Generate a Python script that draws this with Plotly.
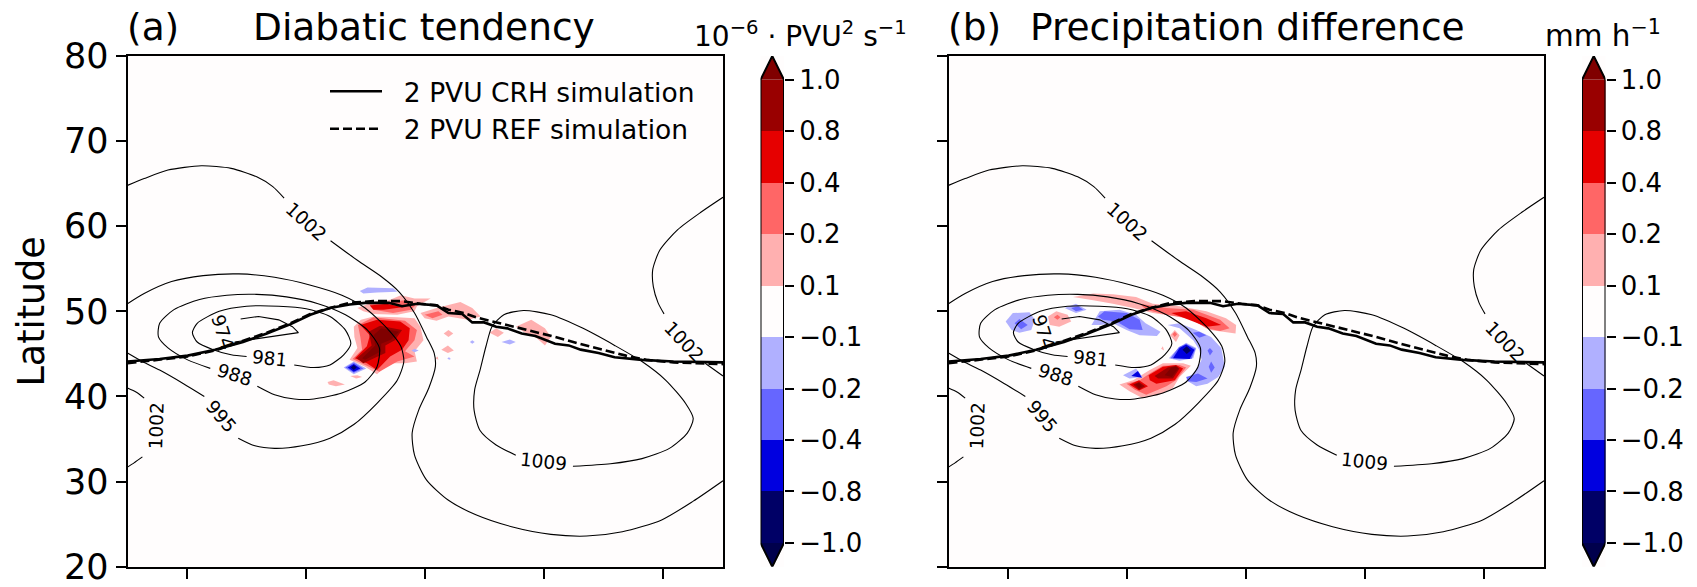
import plotly.graph_objects as go

# Colour-class boundaries and colours
cbar_levels = [-1.0, -0.8, -0.4, -0.2, -0.1, 0.1, 0.2, 0.4, 0.8, 1.0]
cbar_labels = ["\u22121.0", "\u22120.8", "\u22120.4", "\u22120.2", "\u22120.1", "0.1", "0.2", "0.4", "0.8", "1.0"]
cbar_colors = ["#000066", "#0000e0", "#6666ff", "#b0b0ff", "#fffdfd", "#ffb0b0", "#ff6666", "#e60000", "#990000"]
over_color = "#800000"
under_color = "#00004c"
CLASS = {"n1": "#000066", "n2": "#0000e0", "n3": "#6666ff", "n4": "#b0b0ff",
         "p1": "#ffb0b0", "p2": "#ff6666", "p3": "#e60000", "p4": "#990000", "p5": "#800000"}

lat_ticks = [20, 30, 40, 50, 60, 70, 80]
lon_ticks = [-40, -20, 0, 20, 40]

# Sea-level-pressure isobars (lon, lat); pieces stop where the inline labels sit
slp_1002_a = [(-50, 64.8), (-47.2, 65.6), (-43.2, 66.6), (-37.6, 67.1), (-32.6, 66.8), (-28.3, 65.8), (-25.6, 64.65), (-23.7, 63.3)]
slp_1002_b = [(-15.9, 58.3), (-11.4, 56.0), (-7.4, 54.1), (-4.4, 52.3), (-1.8, 49.8), (0.2, 47.0), (1.5, 45.1), (1.7, 43.5),
              (0.6, 41.0), (-1.1, 38.4), (-2.2, 35.7), (-1.8, 33.1), (0.2, 30.2), (3.9, 27.8), (8.5, 26.1), (14.5, 24.7),
              (21.1, 23.8), (27.1, 23.6), (33.1, 24.1), (39.7, 25.5), (45.0, 27.7), (50, 30.1)]
slp_1002_c = [(-50, 41.0), (-48.5, 40.5), (-47.2, 39.8)]
slp_1002_d = [(-47.5, 32.9), (-48.9, 32.2), (-50, 31.7)]
slp_1002_e = [(50, 63.4), (46.4, 61.7), (42.4, 59.6), (39.4, 57.2), (38.2, 54.9), (38.3, 52.9), (39.1, 51.0), (40.1, 49.7)]
slp_1002_f = [(47, 43.9), (50, 42.4)]
slp_995_a = [(-31.4, 35.1), (-28.6, 34.2), (-25.3, 33.9), (-20.7, 34.2), (-16.0, 35.1), (-12.0, 36.7), (-8.1, 39.2), (-4.7, 41.9),
             (-3.6, 44.1), (-4.1, 45.9), (-6.4, 48.0), (-10.1, 50.4), (-14.0, 51.9), (-19.4, 53.1), (-25.3, 54.0), (-31.3, 54.4),
             (-37.3, 54.2), (-42.6, 53.5), (-47.2, 52.1), (-50, 50.9)]
slp_995_b = [(-37.1, 40.0), (-40.6, 41.5), (-44.6, 43.1), (-47.5, 44.1), (-50, 45.1)]
slp_988 = [(-36.1, 43.3), (-39.9, 44.3), (-43.2, 45.7), (-44.8, 47.0), (-44.6, 48.6), (-42.2, 50.2), (-37.9, 51.4), (-33.3, 51.9),
           (-28.3, 52.0), (-23.3, 51.7), (-18.0, 50.9), (-13.4, 49.6), (-9.7, 47.8), (-7.7, 45.7), (-8.1, 43.5), (-10.1, 41.7),
           (-14.0, 40.4), (-18.7, 39.7), (-22.0, 39.7), (-25.3, 40.2), (-28.2, 41.2)]
slp_981 = [(-22, 43.7), (-18.7, 43.4), (-16.0, 43.7), (-13.7, 44.9), (-12.5, 46.2), (-13.4, 47.8), (-16.0, 49.4), (-20.0, 50.3),
           (-24.6, 50.6), (-30.0, 50.6), (-34.6, 50.0), (-38.3, 48.6), (-39.1, 47.5), (-38.3, 46.4), (-35.6, 45.5), (-32.6, 44.9), (-30.0, 44.7)]
slp_974 = [(-31.0, 49.1), (-28.0, 49.4), (-24.6, 49.0), (-22.3, 48.2), (-21.3, 47.5), (-28.3, 46.8), (-32.0, 46.4)]
slp_1009 = [(15.2, 33.1), (11.9, 34.3), (9.2, 36.0), (8.2, 38.4), (8.3, 40.8), (9.2, 43.1), (10.2, 45.9), (11.2, 48.2), (13.2, 49.6),
            (16.5, 50.1), (21.1, 49.6), (26.5, 48.0), (31.8, 46.0), (36.4, 44.1), (40.4, 41.9), (43.7, 39.2), (45.0, 37.4), (44.0, 35.7),
            (41.0, 33.9), (36.4, 32.7), (31.1, 32.1), (24.8, 31.8)]
smooth_isobars = [slp_1002_a, slp_1002_b, slp_1002_c, slp_1002_d, slp_1002_e, slp_1002_f, slp_995_a, slp_995_b, slp_988, slp_981, slp_1009]
sharp_isobars = [slp_974]

# Inline isobar labels: text, lon, lat, angle
isobar_labels = [("1002", -20.0, 60.6, 42), ("1002", -45.2, 36.5, -88), ("995", -34.3, 37.6, 50), ("988", -32.1, 42.6, 18),
                 ("981", -26.1, 44.5, 6), ("974", -34.1, 47.6, 72), ("1002", 43.4, 46.4, 46), ("1009", 19.9, 32.4, 6)]

# 2 PVU contours
pvu_crh = [(-50, 44.1), (-44.6, 44.4), (-39.9, 44.8), (-35.3, 45.5), (-30.6, 46.4), (-26.6, 47.4), (-22.6, 48.5), (-19.3, 49.6), (-16.0, 50.4),
           (-12.7, 50.8), (-10.1, 51.0), (-6.1, 51.0), (-3.9, 50.6), (-1.4, 50.9), (1.9, 50.7), (3.9, 49.8), (6.2, 49.7), (7.9, 48.7), (9.9, 48.7),
           (11.9, 48.2), (13.8, 48.0), (16.2, 47.4), (18.5, 47.1), (21.8, 46.2), (24.1, 46.0), (26.1, 45.5), (29.1, 45.1), (31.8, 44.6), (36.4, 44.3),
           (41.7, 44.1), (50, 44.0)]
pvu_ref = [(-50, 43.9), (-44.6, 44.3), (-39.9, 44.7), (-35.3, 45.4), (-30.6, 46.5), (-26.6, 47.5), (-22.6, 48.6), (-19.3, 49.7), (-16, 50.4),
           (-12.7, 51.0), (-8.7, 51.2), (-4.1, 51.2), (-0.8, 50.9), (1.9, 50.7), (3.9, 50.2), (6.5, 49.8), (8.5, 49.3), (11.9, 48.7), (15.2, 48.2),
           (18.5, 47.6), (21.8, 47.0), (25.8, 46.2), (29.8, 45.5), (33.7, 44.8), (37.1, 44.3), (41.7, 44.0), (50, 43.8)]

# Panel (a): diabatic tendency filled regions, per colour class
a_p1 = [
    [(-10.8, 49.0), (-8.7, 49.4), (-4.7, 49.3), (-1.8, 49.2), (-0.8, 48.2), (-0.3, 46.6), (-1.8, 45.3), (-1.4, 44.1), (-3.4, 43.9), (-6.1, 43.9),
     (-8.1, 42.6), (-10.1, 43.5), (-12.7, 44.3), (-11.4, 45.7), (-11.9, 47.0), (-12.0, 48.2)],
    [(-11.4, 50.4), (-8.7, 51.1), (-6.1, 51.3), (-4.1, 51.9), (-1.8, 51.5), (0.9, 51.5), (-1.4, 50.6), (-1.8, 50.0), (-4.7, 49.6), (-8.7, 49.7), (-10.4, 50.0)],
    [(-0.8, 49.8), (1.9, 50.4), (5.9, 51.1), (7.9, 50.4), (9.3, 49.4), (7.2, 49.0), (3.9, 49.4), (1.9, 48.9), (-0.1, 49.2)],
    [(3.1, 47.4), (3.9, 47.8), (4.7, 47.4), (3.9, 47.0)],
    [(2.7, 45.5), (3.8, 46.0), (4.8, 45.4), (3.8, 45.1)],
    [(-16.4, 41.7), (-15.4, 41.9), (-13.5, 41.4), (-15.0, 41.2), (-16.2, 41.4)],
    [(-12.6, 42.4), (-11.4, 42.5), (-10.6, 42.3), (-11.6, 42.1)],
    [(10.8, 47.5), (11.9, 48.0), (13.2, 47.5), (12.2, 47.0)],
    [(15.2, 48.2), (17.8, 49.0), (20.1, 48.0), (21.1, 47.0), (20.1, 46.0), (18.8, 46.8), (16.5, 47.6)],
    [(1.7, 44.5), (2.1, 44.7), (2.2, 44.3)],
]
a_p2 = [
    [(-11.3, 48.4), (-8.7, 49.3), (-3.4, 48.9), (-1.4, 47.8), (-1.8, 46.6), (-3.4, 45.3), (-1.8, 44.7), (-4.7, 44.1), (-7.7, 42.9), (-9.4, 43.5),
     (-12.2, 44.4), (-10.6, 45.5), (-10.9, 47.0)],
    [(-9.4, 50.8), (-6.1, 51.1), (-3.4, 51.3), (-1.4, 50.9), (-2.4, 50.2), (-5.4, 49.8), (-8.7, 50.2)],
    [(-0.1, 49.6), (2.2, 50.0), (2.9, 49.6), (1.2, 49.2)],
]
a_p3 = [
    [(-10.9, 48.4), (-8.1, 49.0), (-4.2, 48.8), (-2.6, 48.0), (-2.8, 46.6), (-3.9, 45.5), (-5.9, 44.7), (-8.1, 43.1), (-9.8, 43.9), (-11.8, 44.5), (-9.8, 45.9), (-9.3, 47.2)],
    [(-9.3, 50.7), (-6.5, 50.9), (-3.9, 50.5), (-2.6, 50.6), (-4.2, 50.4), (-7.0, 50.2), (-8.7, 50.2)],
]
a_p4 = [[(-9.5, 47.6), (-7.6, 48.3), (-3.9, 47.8), (-5.1, 46.6), (-6.7, 46.0), (-6.7, 45.1), (-10.4, 43.9), (-11.5, 44.5), (-9.0, 46.0)]]
a_p5 = [[(-8.7, 47.2), (-7.4, 48.0), (-4.4, 47.6), (-5.7, 46.7), (-7.4, 46.2), (-7.4, 45.3), (-10.1, 44.3), (-10.6, 44.5), (-8.4, 46.0)]]
a_n4 = [
    [(-11.0, 52.4), (-9.7, 52.8), (-5.4, 52.7), (-4.7, 52.3), (-8.1, 52.2), (-10.4, 52.1)],
    [(-2.3, 45.4), (-1.8, 45.6), (-1.1, 45.4), (-1.8, 45.2)],
    [(7.5, 46.4), (7.9, 46.6), (8.3, 46.4), (7.9, 46.2)],
    [(12.8, 46.4), (14.2, 46.7), (15.2, 46.4), (14.2, 46.1)],
    [(3.7, 44.5), (4.0, 44.6), (4.3, 44.4), (4.0, 44.3)],
    [(-13.7, 43.4), (-12.0, 44.1), (-9.9, 43.3), (-12.0, 42.6)],
]
a_n3 = [[(-13.4, 43.4), (-12.0, 44.0), (-10.4, 43.3), (-12.0, 42.8)]]
a_n2 = [[(-13.0, 43.4), (-12.0, 43.8), (-10.9, 43.3), (-12.0, 42.9)]]
a_n1 = [[(-12.5, 43.4), (-12.0, 43.7), (-11.5, 43.4), (-12.0, 43.1)]]

# Panel (b): precipitation difference filled regions, per colour class
b_p1 = [
    [(-29.1, 51.7), (-25.7, 52.1), (-22.4, 52.0), (-18.5, 51.7), (-15.7, 50.9), (-11.2, 50.6), (-6.7, 50.0), (-3.4, 49.2), (-1.7, 48.4), (-1.8, 47.4),
     (-3.9, 47.6), (-6.1, 47.8), (-8.9, 49.0), (-11.8, 49.4), (-15.7, 49.8), (-19.0, 50.4), (-22.4, 50.9), (-25.7, 51.3)],
    [(-33.3, 49.4), (-31.9, 50.0), (-30.0, 49.6), (-29.4, 48.8), (-31.4, 48.2), (-33.0, 48.4)],
    [(-12.8, 47.2), (-12.0, 47.8), (-11.2, 47.2), (-11.8, 46.4)],
    [(-14.3, 45.6), (-14.0, 45.9), (-13.8, 45.4)],
    [(-21.3, 41.4), (-19.0, 41.9), (-16.2, 43.1), (-14.0, 43.9), (-10.6, 43.9), (-9.3, 43.6), (-11.2, 42.3), (-12.3, 41.0), (-14.6, 40.2), (-17.4, 39.8), (-19.6, 40.6)],
]
b_p2 = [
    [(-17.9, 50.9), (-13.4, 50.4), (-8.9, 50.2), (-4.4, 49.0), (-2.8, 48.0), (-4.4, 47.7), (-6.7, 48.0), (-9.5, 49.2), (-13.4, 49.6), (-16.8, 50.2)],
    [(-32.3, 49.3), (-31.7, 49.6), (-31.2, 49.3), (-31.7, 49.0)],
    [(-12.4, 47.3), (-12.0, 47.6), (-11.6, 47.3), (-12.0, 47.0)],
    [(-20.1, 41.5), (-17.9, 41.9), (-16.2, 42.7), (-14.0, 43.6), (-11.2, 43.7), (-10.1, 43.4), (-11.8, 41.9), (-13.4, 41.2), (-16.8, 40.2), (-18.7, 40.8)],
]
b_p3 = [
    [(-12.6, 49.8), (-10.1, 50.0), (-6.7, 49.2), (-4.2, 48.4), (-6.7, 48.2), (-8.9, 48.8)],
    [(-16.4, 42.5), (-14.0, 43.5), (-11.8, 43.7), (-10.6, 43.3), (-12.0, 41.9), (-15.1, 41.5), (-16.2, 41.9)],
    [(-19.6, 41.4), (-18.0, 41.9), (-16.5, 41.2), (-18.0, 40.7)],
]
b_p4 = [
    [(-15.4, 42.4), (-13.2, 43.4), (-11.8, 43.6), (-11.2, 43.3), (-12.3, 42.1), (-14.8, 42.1)],
    [(-19.0, 41.4), (-18.0, 41.7), (-17.0, 41.2), (-18.0, 40.8)],
]
b_p5 = [
    [(-13.7, 42.5), (-12.6, 43.4), (-11.8, 43.5), (-11.4, 43.3), (-12.5, 42.3)],
    [(-18.6, 41.4), (-18.0, 41.6), (-17.5, 41.2), (-18.0, 41.0)],
]
b_n4 = [
    [(-40.4, 48.8), (-39.2, 49.8), (-36.4, 49.9), (-35.5, 49.0), (-36.1, 47.8), (-38.1, 47.5), (-39.4, 47.8)],
    [(-30.5, 50.4), (-28.6, 50.9), (-26.8, 50.2), (-28.6, 49.8)],
    [(-26.0, 48.4), (-24.6, 50.0), (-21.3, 50.2), (-18.5, 49.6), (-16.9, 48.6), (-14.4, 47.6), (-15.0, 47.1), (-17.9, 47.2), (-20.1, 47.8), (-22.4, 48.6), (-24.6, 48.4)],
    [(-13.2, 48.4), (-11.2, 48.6), (-8.4, 47.8), (-5.9, 47.0), (-4.2, 45.7), (-3.6, 43.5), (-4.7, 42.3), (-6.5, 41.5), (-8.4, 41.2), (-10.1, 41.9), (-8.4, 43.1),
     (-7.5, 44.3), (-7.9, 45.5), (-8.9, 46.6), (-11.2, 48.0)],
    [(-13.0, 44.5), (-11.4, 45.7), (-10.1, 46.3), (-8.4, 45.7), (-8.9, 44.5), (-11.2, 44.2)],
    [(-20.7, 42.5), (-18.5, 43.3), (-17.4, 42.3), (-19.6, 42.1)],
]
b_n3 = [
    [(-38.9, 48.6), (-38.1, 49.1), (-36.7, 48.4), (-37.8, 47.9)],
    [(-29.4, 50.4), (-28.2, 50.6), (-27.4, 50.2), (-28.6, 50.0)],
    [(-24.9, 49.4), (-23.8, 50.0), (-20.1, 49.8), (-17.9, 49.0), (-17.4, 47.8), (-19.6, 47.9), (-21.8, 48.8), (-24.1, 49.0)],
    [(-9.0, 47.5), (-7.9, 47.6), (-6.7, 47.2), (-7.9, 46.9)],
    [(-6.5, 45.4), (-6.1, 45.7), (-5.6, 45.3), (-6.1, 44.8)],
    [(-6.3, 43.5), (-5.9, 44.1), (-5.3, 43.4), (-5.9, 42.8)],
    [(-10.1, 42.3), (-8.1, 42.7), (-6.5, 42.1), (-8.4, 41.7), (-9.8, 41.8)],
    [(-12.7, 44.5), (-11.3, 45.8), (-10.1, 46.2), (-8.5, 45.6), (-9.2, 44.4)],
]
b_n2 = [
    [(-12.3, 44.5), (-11.2, 45.7), (-10.1, 46.1), (-8.7, 45.5), (-9.5, 44.4)],
    [(-19.3, 42.4), (-18.2, 43.0), (-17.5, 42.2)],
]
b_n1 = [[(-10.7, 45.5), (-10.0, 45.9), (-9.3, 45.4), (-10.0, 45.0)]]

panel_a_fill = [("p1", a_p1), ("n4", a_n4), ("p2", a_p2), ("n3", a_n3), ("p3", a_p3), ("n2", a_n2), ("p4", a_p4), ("n1", a_n1), ("p5", a_p5)]
panel_b_fill = [("p1", b_p1), ("n4", b_n4), ("p2", b_p2), ("n3", b_n3), ("p3", b_p3), ("n2", b_n2), ("p4", b_p4), ("n1", b_n1), ("p5", b_p5)]

W, H = 1697, 587
FONT = "DejaVu Sans"
TOP, BOTTOM = 56, 566.7
dom_y = [1 - BOTTOM / H, 1 - TOP / H]
BG = "#fffdfd"

fig = go.Figure()


def add_line(xa, ya, line, spline):
    shape = dict(shape="spline", smoothing=0.7) if spline else {}
    fig.add_trace(go.Scatter(x=[p[0] for p in line], y=[p[1] for p in line], xaxis=xa, yaxis=ya, mode="lines",
                             line=dict(color="black", width=1.1, **shape), showlegend=False, hoverinfo="skip"))


def add_panel(xa, ya, fills, show_legend):
    for key, polys in fills:
        for poly in polys:
            fig.add_trace(go.Scatter(x=[p[0] for p in poly], y=[p[1] for p in poly], xaxis=xa, yaxis=ya, mode="lines",
                                     line=dict(width=0), fill="toself", fillcolor=CLASS[key], showlegend=False, hoverinfo="skip"))
    for line in smooth_isobars:
        add_line(xa, ya, line, True)
    for line in sharp_isobars:
        add_line(xa, ya, line, False)
    fig.add_trace(go.Scatter(x=[p[0] for p in pvu_crh], y=[p[1] for p in pvu_crh], xaxis=xa, yaxis=ya, mode="lines",
                             line=dict(color="black", width=2.6), name="\u00a0\u00a02 PVU CRH simulation", showlegend=show_legend, legendgroup="crh"))
    fig.add_trace(go.Scatter(x=[p[0] for p in pvu_ref], y=[p[1] for p in pvu_ref], xaxis=xa, yaxis=ya, mode="lines",
                             line=dict(color="black", width=2.6, dash="9px,4px"), name="\u00a0\u00a02 PVU REF simulation", showlegend=show_legend, legendgroup="ref"))
    for txt, lon, lat, ang in isobar_labels:
        fig.add_annotation(x=lon, y=lat, xref=xa, yref=ya, text=txt, textangle=ang, showarrow=False, font=dict(family=FONT, size=18.5, color="black"))


def add_cbar(xa, ya):
    for i, col in enumerate(cbar_colors):
        fig.add_trace(go.Bar(x=[0], y=[1], base=[i], width=[1], xaxis=xa, yaxis=ya, marker=dict(color=col, line=dict(width=0)),
                             showlegend=False, hoverinfo="skip"))
    n = len(cbar_colors)
    tip = 0.462
    fig.add_trace(go.Scatter(x=[-0.5, 0, 0.5], y=[n, n + tip, n], xaxis=xa, yaxis=ya, mode="lines", fill="toself", fillcolor=over_color,
                             line=dict(width=0), showlegend=False, hoverinfo="skip"))
    fig.add_trace(go.Scatter(x=[-0.5, 0, 0.5], y=[0, -tip, 0], xaxis=xa, yaxis=ya, mode="lines", fill="toself", fillcolor=under_color,
                             line=dict(width=0), showlegend=False, hoverinfo="skip"))
    fig.add_trace(go.Scatter(x=[-0.5, -0.5, 0, 0.5, 0.5, 0, -0.5], y=[0, n, n + tip, n, 0, -tip, 0], xaxis=xa, yaxis=ya, mode="lines",
                             line=dict(color="black", width=2), cliponaxis=False, showlegend=False, hoverinfo="skip"))


add_panel("x", "y", panel_a_fill, True)
add_cbar("x2", "y2")
add_panel("x3", "y3", panel_b_fill, False)
add_cbar("x4", "y4")


def main_x(left, right):
    return dict(domain=[left / W, right / W], range=[-50, 50], tickvals=lon_ticks, showticklabels=False, ticks="outside", ticklen=10, tickwidth=2,
                tickcolor="black", showline=True, mirror=True, linecolor="black", linewidth=2, showgrid=False, zeroline=False, automargin=False)


def main_y(anchor, labels, title=None):
    d = dict(domain=dom_y, range=[20, 80], tickvals=lat_ticks, showticklabels=labels, ticks="outside", ticklen=10, tickwidth=2, tickcolor="black",
             tickfont=dict(family=FONT, size=35, color="black"), showline=True, mirror=True, linecolor="black", linewidth=2, showgrid=False, zeroline=False,
             anchor=anchor, automargin=False)
    if title:
        d["title"] = dict(text=title, font=dict(family=FONT, size=36.5, color="black"), standoff=8)
    return d


def cbar_x(left, right):
    return dict(domain=[left / W, right / W], range=[-0.5, 0.5], visible=False, fixedrange=True, automargin=False)


def cbar_y(anchor):
    return dict(domain=dom_y, range=[-0.462, 9.462], side="right", anchor=anchor, tickvals=list(range(len(cbar_labels))), ticktext=cbar_labels,
                ticks="outside", ticklen=9, tickwidth=2, tickcolor="black", tickfont=dict(family=FONT, size=26, color="black"),
                showgrid=False, zeroline=False, showline=False, automargin=False)


def head(text, x, y, size=37.5, anchor="left"):
    return dict(text=text, x=x / W, y=1 - y / H, xref="paper", yref="paper", xanchor=anchor, yanchor="middle", showarrow=False,
                font=dict(family=FONT, size=size, color="black"))


annots = list(fig.layout.annotations) + [
    head("(a)", 125, 27),
    head("Diabatic tendency", 424, 27, anchor="center"),
    head("(b)", 946, 27),
    head("Precipitation difference", 1247, 27, anchor="center"),
    head("10<sup>\u22126</sup> \u00b7 PVU<sup>2</sup> s<sup>\u22121</sup>", 800, 34, size=28, anchor="center"),
    head("mm h<sup>\u22121</sup>", 1603, 34, size=29.5, anchor="center"),
]

fig.update_layout(
    width=W, height=H, autosize=False, margin=dict(l=0, r=0, t=0, b=0), paper_bgcolor="white", plot_bgcolor=BG, barmode="overlay", bargap=0,
    font=dict(family=FONT, color="black"), annotations=annots, hovermode=False,
    xaxis=main_x(127.5, 723), yaxis=main_y("x", True, "Latitude"),
    xaxis2=cbar_x(760.5, 784), yaxis2=cbar_y("x2"),
    xaxis3=main_x(948.5, 1544), yaxis3=main_y("x3", False),
    xaxis4=cbar_x(1582, 1605.5), yaxis4=cbar_y("x4"),
    legend=dict(x=325 / W, y=1 - 67.5 / H, xanchor="left", yanchor="top", bgcolor="rgba(0,0,0,0)", font=dict(family=FONT, size=26.5, color="black"),
                itemwidth=52, tracegroupgap=0, itemclick=False, itemdoubleclick=False),
)
fig.write_html("out.html", config={"displayModeBar": False}, post_script="document.body.style.margin='0';")
